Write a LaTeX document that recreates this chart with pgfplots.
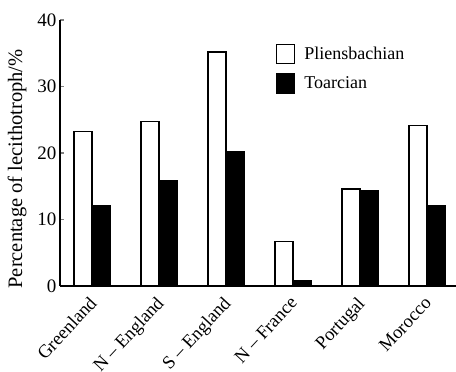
\documentclass[border=0pt]{standalone}
\usepackage{fontspec}
\setmainfont{Liberation Serif}
\usepackage{pgfplots}
\pgfplotsset{compat=1.18}
\begin{document}
\begin{tikzpicture}
\path[use as bounding box] (-60pt,-86pt) rectangle (396pt,286pt);
\begin{axis}[
  at={(0pt,0pt)}, anchor=south west,
  scale only axis, width=396pt, height=266pt,
  font=\fontsize{18}{21}\selectfont,
  /pgf/number format/assume math mode=true,
  ybar=0pt, bar width=18pt,
  xmin=-0.48, xmax=5.43, ymin=0, ymax=40,
  axis lines=left, axis line style={-, line width=1.4pt},
  xtick={0,1,2,3,4,5},
  xticklabels={Greenland, N -- England, S -- England, N -- France, Portugal, Morocco},
  xtick style={draw=none},
  xticklabel style={font=\fontsize{18.5}{22}\selectfont, xshift=-4pt, yshift=-8pt, rotate=47, anchor=north east, inner sep=1pt},
  ytick={0,10,20,30,40},
  yticklabel style={font=\fontsize{19}{22}\selectfont},
  tick align=inside, major tick length=4pt,
  ytick style={line width=1.2pt},
  ylabel={Percentage of lecithotroph/\%},
  ylabel style={font=\fontsize{20.5}{24}\selectfont, at={(axis description cs:-0.108,0.44)}, anchor=center},
  legend style={at={(axis description cs:0.5376,0.918)}, anchor=north west, draw=none, fill=none, row sep=9pt, font=\fontsize{18}{21}\selectfont, /tikz/every odd column/.append style={column sep=7pt}},
  legend cell align=left,
  legend image code/.code={\draw[line width=1.3pt,#1] (0pt,-9.5pt) rectangle (18pt,9.5pt);},
]
\addplot[draw=black, line width=1.4pt, fill=white] coordinates {(0,23.2) (1,24.7) (2,35.2) (3,6.7) (4,14.6) (5,24.1)};
\addplot[draw=black, line width=1.4pt, fill=black] coordinates {(0,12.0) (1,15.8) (2,20.2) (3,0.8) (4,14.4) (5,12.0)};
\legend{Pliensbachian, Toarcian}
\end{axis}
\end{tikzpicture}
\end{document}
